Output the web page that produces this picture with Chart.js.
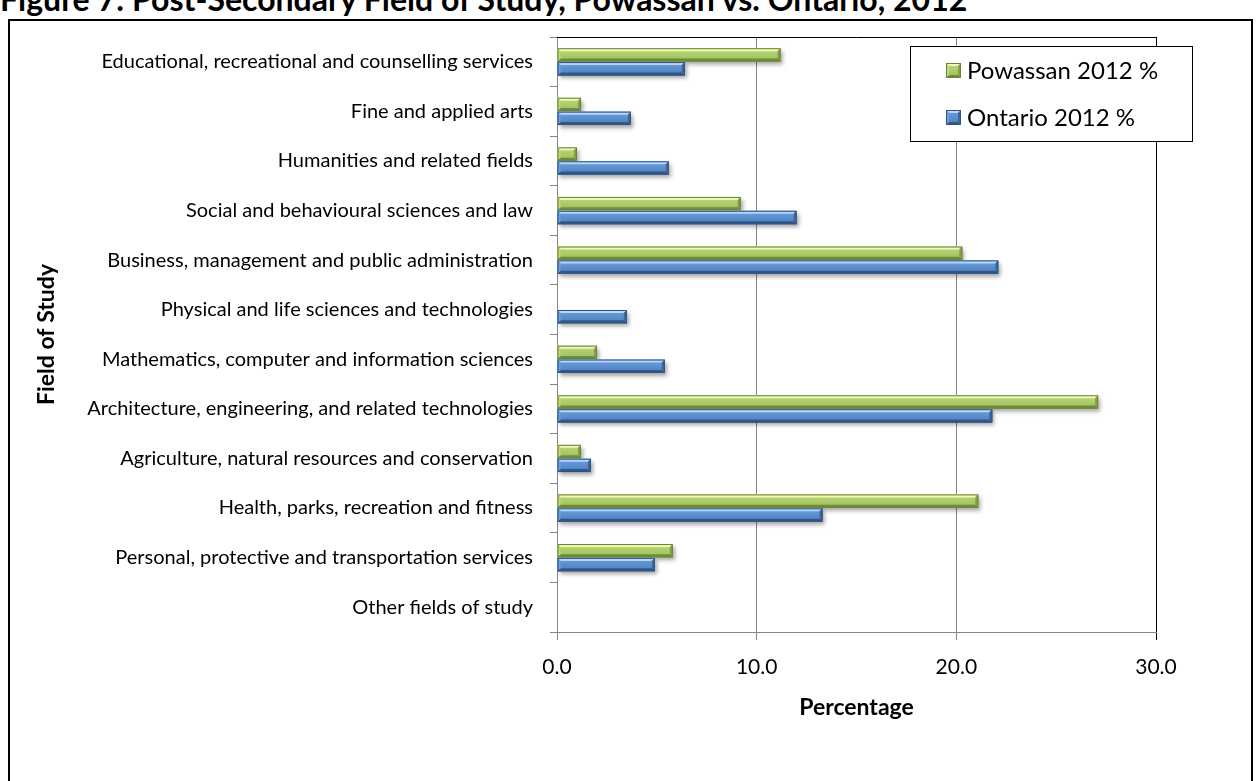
<!DOCTYPE html>
<html>
<head>
<meta charset="utf-8">
<script src="https://cdn.jsdelivr.net/npm/chart.js@4.4.1/dist/chart.umd.min.js"></script>
<style>
  html, body { margin: 0; padding: 0; background: #fff; overflow: hidden; }
  #wrap { position: relative; width: 1258px; height: 781px; overflow: hidden; }
  #title { position: absolute; left: 0; top: -17px; font: bold 32px/32px Lato, sans-serif; white-space: nowrap; color: #000; }
  #frame { position: absolute; left: 8px; top: 19px; width: 1245px; height: 800px; border: 2px solid #000; box-sizing: border-box; }
  #chart { position: absolute; left: 0; top: 0; }
</style>
</head>
<body>
<div id="wrap">
  <div id="title">Figure 7: Post-Secondary Field of Study, Powassan vs. Ontario, 2012</div>
  <div id="frame"></div>
  <canvas id="chart" width="1258" height="781"></canvas>
</div>
<script>
// Fields of study, listed top to bottom
const categories = [
  'Educational, recreational and counselling services',
  'Fine and applied arts',
  'Humanities and related fields',
  'Social and behavioural sciences and law',
  'Business, management and public administration',
  'Physical and life sciences and technologies',
  'Mathematics, computer and information sciences',
  'Architecture, engineering, and related technologies',
  'Agriculture, natural resources and conservation',
  'Health, parks, recreation and fitness',
  'Personal, protective and transportation services',
  'Other fields of study'
];

const seriesNames = ['Powassan 2012 %', 'Ontario 2012 %'];

// Share of post-secondary graduates by field (%)
const powassan = [11.2, 1.2, 1.0, 9.2, 20.3, 0, 2.0, 27.1, 1.2, 21.1, 5.8, 0];
const ontario  = [6.4, 3.7, 5.6, 12.0, 22.1, 3.5, 5.4, 21.8, 1.7, 13.3, 4.9, 0];

const xTicks = [0, 10, 20, 30];

// Bevel palettes for the two series
const palettes = [
  { base: '#9bbb59', hi: '#eef9b8', faceTop: '#bdd97c', faceBot: '#9dbd5a', dark: '#6f8b3a', side: '#83a047', edge: '#6a8436' },
  { base: '#4f81bd', hi: '#b3d6fa', faceTop: '#6d9fdc', faceBot: '#4c7fbe', dark: '#335887', side: '#3f6899', edge: '#2f5382' }
];

function drawBevelRect(ctx, x0, y0, x1, y1, pal) {
  const w = x1 - x0, h = y1 - y0;
  const b = Math.min(3, w / 2, h / 2);
  const g = ctx.createLinearGradient(0, y0, 0, y1);
  g.addColorStop(0, pal.faceTop);
  g.addColorStop(1, pal.faceBot);
  ctx.fillStyle = g;
  ctx.fillRect(x0, y0, w, h);
  // top bevel
  ctx.fillStyle = pal.hi;
  ctx.beginPath();
  ctx.moveTo(x0, y0); ctx.lineTo(x1, y0); ctx.lineTo(x1 - b, y0 + b); ctx.lineTo(x0 + b, y0 + b);
  ctx.closePath(); ctx.fill();
  // bottom bevel
  ctx.fillStyle = pal.dark;
  ctx.beginPath();
  ctx.moveTo(x0, y1); ctx.lineTo(x1, y1); ctx.lineTo(x1 - b, y1 - b); ctx.lineTo(x0 + b, y1 - b);
  ctx.closePath(); ctx.fill();
  // right bevel
  ctx.fillStyle = pal.side;
  ctx.beginPath();
  ctx.moveTo(x1, y0); ctx.lineTo(x1, y1); ctx.lineTo(x1 - b, y1 - b); ctx.lineTo(x1 - b, y0 + b);
  ctx.closePath(); ctx.fill();
  // left bevel
  ctx.fillStyle = pal.faceTop;
  ctx.beginPath();
  ctx.moveTo(x0, y0); ctx.lineTo(x0, y1); ctx.lineTo(x0 + b, y1 - b); ctx.lineTo(x0 + b, y0 + b);
  ctx.closePath(); ctx.fill();
  ctx.strokeStyle = pal.edge;
  ctx.lineWidth = 1;
  ctx.strokeRect(x0 + 0.5, y0 + 0.5, w - 1, h - 1);
}

const bevelBars = {
  id: 'bevelBars',
  beforeDatasetsDraw(chart) {
    const ctx = chart.ctx;
    ctx.save();
    ctx.shadowColor = 'rgba(0,0,0,0.35)';
    ctx.shadowBlur = 4;
    ctx.shadowOffsetX = 2;
    ctx.shadowOffsetY = 3;
  },
  afterDatasetsDraw(chart) {
    const ctx = chart.ctx;
    ctx.restore();
    chart.data.datasets.forEach((ds, di) => {
      const meta = chart.getDatasetMeta(di);
      meta.data.forEach(bar => {
        const p = bar.getProps(['x', 'y', 'base', 'height'], true);
        const x0 = Math.min(p.base, p.x), x1 = Math.max(p.base, p.x);
        if (x1 - x0 < 1) return;
        drawBevelRect(ctx, x0, p.y - p.height / 2, x1, p.y + p.height / 2, palettes[di]);
      });
    });
    // plot area outline on the top and right
    const a = chart.chartArea;
    ctx.save();
    ctx.strokeStyle = '#000';
    ctx.lineWidth = 1;
    ctx.beginPath();
    ctx.moveTo(a.left, Math.round(a.top) + 0.5);
    ctx.lineTo(Math.round(a.right) + 0.5, Math.round(a.top) + 0.5);
    ctx.lineTo(Math.round(a.right) + 0.5, a.bottom);
    ctx.stroke();
    ctx.restore();
  },
  afterDraw(chart) {
    // framed legend box in the upper right
    const ctx = chart.ctx;
    const bx = 910, by = 46, bw = 283, bh = 96;
    ctx.save();
    ctx.fillStyle = '#fff';
    ctx.fillRect(bx, by, bw, bh);
    ctx.strokeStyle = '#000';
    ctx.lineWidth = 1;
    ctx.strokeRect(bx + 0.5, by + 0.5, bw - 1, bh - 1);
    ctx.font = '24px Lato, sans-serif';
    ctx.textBaseline = 'middle';
    ctx.fillStyle = '#000';
    const rows = [70, 117];
    chart.data.datasets.forEach((ds, di) => {
      const cy = rows[di];
      drawBevelRect(ctx, 946, cy - 7, 961, cy + 8, palettes[di]);
      ctx.fillStyle = '#000';
      ctx.fillText(ds.label, 967, cy + 1);
    });
    ctx.restore();
  }
};

const chart = new Chart(document.getElementById('chart'), {
  type: 'bar',
  data: {
    labels: categories,
    datasets: [
      { label: seriesNames[0], data: powassan, backgroundColor: palettes[0].base,
        borderWidth: 0, categoryPercentage: 0.56, barPercentage: 0.96 },
      { label: seriesNames[1], data: ontario, backgroundColor: palettes[1].base,
        borderWidth: 0, categoryPercentage: 0.56, barPercentage: 0.96 }
    ]
  },
  options: {
    indexAxis: 'y',
    responsive: false,
    animation: false,
    layout: { padding: { left: 33, top: 37, right: 102, bottom: 0 } },
    plugins: {
      legend: { display: false },
      tooltip: { enabled: false }
    },
    scales: {
      x: {
        min: 0, max: 30,
        afterBuildTicks: s => { s.ticks = xTicks.map(v => ({ value: v })); },
        afterFit: s => { s.height = 149; },
        ticks: {
          callback: v => Number(v).toFixed(1),
          color: '#000',
          font: { family: 'Lato', size: 21 },
          padding: 15
        },
        grid: {
          color: c => (c.tick && c.tick.value === 30 ? '#000' : '#868686'),
          lineWidth: 1,
          tickLength: 8
        },
        border: { color: '#868686', width: 1 },
        title: {
          display: true, text: 'Percentage', color: '#000',
          font: { family: 'Lato', size: 23, weight: 'bold' },
          padding: { top: 0, bottom: 60 }
        }
      },
      y: {
        afterFit: s => { s.width = 524; },
        ticks: {
          color: '#000',
          font: { family: 'Lato', size: 20 },
          padding: 17
        },
        grid: {
          offset: true,
          drawOnChartArea: false,
          color: '#868686',
          tickLength: 7
        },
        border: { color: '#868686', width: 1 },
        title: {
          display: true, text: 'Field of Study', color: '#000',
          font: { family: 'Lato', size: 23, weight: 'bold' },
          padding: { top: 0, bottom: 0 }
        }
      }
    }
  },
  plugins: [bevelBars]
});
</script>
</body>
</html>
